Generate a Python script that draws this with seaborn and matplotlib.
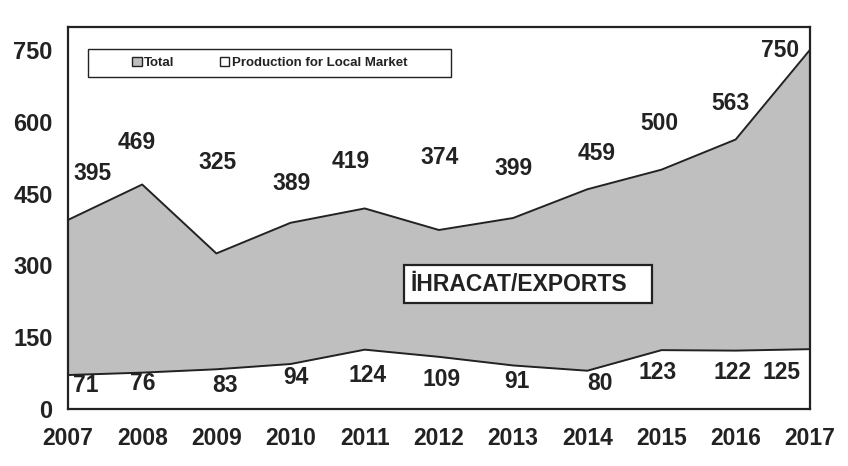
import numpy as np
import pandas as pd
import matplotlib
matplotlib.use("Agg")
import matplotlib.pyplot as plt
import seaborn as sns
from matplotlib.patches import Patch, Rectangle

years = [2007, 2008, 2009, 2010, 2011, 2012, 2013, 2014, 2015, 2016, 2017]
total = [395, 469, 325, 389, 419, 374, 399, 459, 500, 563, 750]
local = [71, 76, 83, 94, 124, 109, 91, 80, 123, 122, 125]
yticks = [0, 150, 300, 450, 600, 750]

# where the value labels sit (data units)
tot_lab_dx = [0.33, -0.07, 0.02, 0.01, -0.19, 0.01, 0.0, 0.12, -0.03, -0.07, -0.4]
tot_lab_y = [491, 556, 514, 472, 518, 526, 503, 533, 597, 639, 750]
loc_lab_dx = [0.24, 0.01, 0.12, 0.07, 0.04, 0.03, 0.05, 0.17, -0.05, -0.04, -0.38]
loc_lab_y = [50, 54, 50, 65, 71, 61, 58, 54, 77, 77, 77]

df = pd.DataFrame({"year": years, "total": total, "local": local})

sns.set_style("white")
plt.rcParams["font.family"] = ["Liberation Sans", "DejaVu Sans"]
plt.rcParams["font.weight"] = "bold"

ink = "#222222"
grey = "#bfbfbf"

fig = plt.figure(figsize=(8.48, 4.66), dpi=100)
ax = fig.add_axes([0.0802, 0.1223, 0.955 - 0.0802, 0.942 - 0.1223])

ax.fill_between(df["year"], 0, df["total"], color=grey, lw=0)
ax.fill_between(df["year"], 0, df["local"], color="white", lw=0)
sns.lineplot(data=df, x="year", y="total", color=ink, lw=1.4, ax=ax)
sns.lineplot(data=df, x="year", y="local", color=ink, lw=1.4, ax=ax)

for i, yr in enumerate(years):
    ax.text(yr + tot_lab_dx[i], tot_lab_y[i], str(total[i]), ha="center", va="center",
            fontsize=16.5, fontweight="bold", color=ink)
    ax.text(yr + loc_lab_dx[i], loc_lab_y[i], str(local[i]), ha="center", va="center",
            fontsize=16.5, fontweight="bold", color=ink)

ax.add_patch(Rectangle((2011.53, 221), 3.34, 80, facecolor="white", edgecolor=ink, lw=1.6, zorder=3))
ax.text(2011.62, 261, "İHRACAT/EXPORTS", ha="left", va="center", fontsize=16.5,
        fontweight="bold", color=ink, zorder=4)

ax.set_xlim(2007, 2017)
ax.set_ylim(0, 798)
ax.set_xticks(years)
ax.set_yticks(yticks)
ax.set_xlabel("")
ax.set_ylabel("")
ax.tick_params(axis="x", labelsize=16.5, length=7, width=1.5, color=ink, labelcolor=ink, pad=6, direction="out")
ax.tick_params(axis="y", labelsize=17, length=6, width=1.5, color=ink, labelcolor=ink, pad=5, direction="out")
for lab in ax.get_xticklabels() + ax.get_yticklabels():
    lab.set_fontweight("bold")
for s in ax.spines.values():
    s.set_visible(True)
    s.set_color(ink)
    s.set_linewidth(1.6)

# legend box
ax.add_patch(Rectangle((0.027, 0.869), 0.489, 0.073, transform=ax.transAxes,
                       facecolor="white", edgecolor=ink, lw=1.0, zorder=5))
handles = [Patch(facecolor=grey, edgecolor=ink, lw=1.0, label="Total"),
           Patch(facecolor="white", edgecolor=ink, lw=1.0, label="Production for Local Market")]
leg = ax.legend(handles=handles, loc="center", bbox_to_anchor=(0.272, 0.905), ncol=2,
                frameon=False, handlelength=0.7, handleheight=0.7,
                handletextpad=0.2, columnspacing=3.4, prop={"weight": "bold", "size": 9.5})
leg.set_zorder(6)
for t in leg.get_texts():
    t.set_color(ink)

fig.savefig("out.png", dpi=100)
